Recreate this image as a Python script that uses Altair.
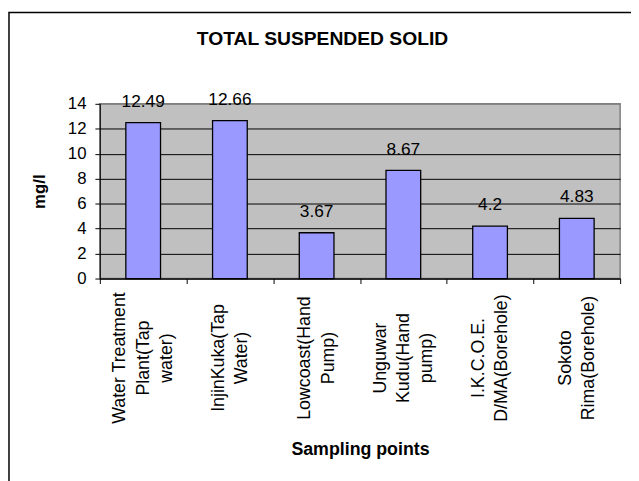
import altair as alt
import pandas as pd

# Data
categories = [
    "Water Treatment|Plant(Tap|water)",
    "InjinKuka(Tap|Water)",
    "Lowcoast(Hand|Pump)",
    "Unguwar|Kudu(Hand|pump)",
    "I.K.C.O.E.|D/MA(Borehole)",
    "Sokoto|Rima(Borehole)",
]
values = [12.49, 12.66, 3.67, 8.67, 4.2, 4.83]
y_ticks = [0, 2, 4, 6, 8, 10, 12, 14]

FONT = "Liberation Sans"
LINE_H = 23.5

df = pd.DataFrame({"point": categories, "tss": values})

x_enc = alt.X(
    "point:N",
    sort=categories,
    title="Sampling points",
    scale=alt.Scale(paddingInner=0, paddingOuter=0),
    axis=alt.Axis(
        labelExpr="split(datum.label, '|')",
        labelAngle=-90,
        labelAlign="center",
        labelBaseline="middle",
        labelPadding=75,
        labelLineHeight=LINE_H,
        labelOffset=alt.condition(
            "length(split(datum.label, '|')) == 3",
            alt.value(-LINE_H),
            alt.value(-LINE_H / 2),
        ),
        labelFontSize=18,
        labelFont=FONT,
        labelColor="black",
        labelLimit=0,
        labelOverlap=False,
        tickBand="extent",
        tickSize=5,
        tickColor="black",
        domainColor="black",
        titleFont=FONT,
        titleFontSize=18,
        titleFontWeight="bold",
        titleColor="black",
        titleY=178,
        titleBaseline="alphabetic",
    ),
)

y_enc = alt.Y(
    "tss:Q",
    title="mg/l",
    scale=alt.Scale(domain=[0, 14], nice=False),
    axis=alt.Axis(
        values=y_ticks,
        tickCount=8,
        grid=True,
        gridColor=alt.condition("datum.value >= 14", alt.value("#808080"), alt.value("black")),
        gridWidth=1,
        tickSize=5,
        tickColor="black",
        domainColor="black",
        labelOverlap=False,
        labelPadding=9,
        labelFontSize=17,
        labelFont=FONT,
        labelColor="black",
        titleFont=FONT,
        titleFontSize=17,
        titleFontWeight="bold",
        titleColor="black",
        titleAngle=270,
        titleX=-56,
        titleY=88.5,
        titleBaseline="alphabetic",
    ),
)

base = alt.Chart(df)

bars = base.mark_bar(
    fill="#9999FF", stroke="black", strokeWidth=1.3, width=alt.RelativeBandSize(0.4)
).encode(x=x_enc, y=y_enc)

labels = base.mark_text(
    dy=-16, baseline="alphabetic", fontSize=17.5, font=FONT, color="black"
).encode(x=x_enc, y=y_enc, text=alt.Text("tss:Q"))

border = alt.Chart(pd.DataFrame({"b": [0]})).mark_rect(
    filled=False, stroke="black", strokeWidth=1.5
).encode(
    x=alt.value(-92), x2=alt.value(600), y=alt.value(-92.5), y2=alt.value(450)
)

chart = alt.layer(border, bars, labels).properties(
    width=527,
    height=177,
    autosize=alt.AutoSizeParams(type="none"),
    padding={"left": 93, "top": 94, "right": 11, "bottom": 202},
    title=alt.TitleParams(
        "TOTAL SUSPENDED SOLID",
        font=FONT,
        fontSize=19.5,
        fontWeight="bold",
        color="black",
        anchor="middle",
        frame="group",
        dx=-38,
        offset=-38,
    ),
    background="white",
).configure_view(
    fill="#C0C0C0", stroke="#808080", strokeWidth=1.5
)

chart.save("out.html", embed_options={"renderer": "svg", "actions": False})
